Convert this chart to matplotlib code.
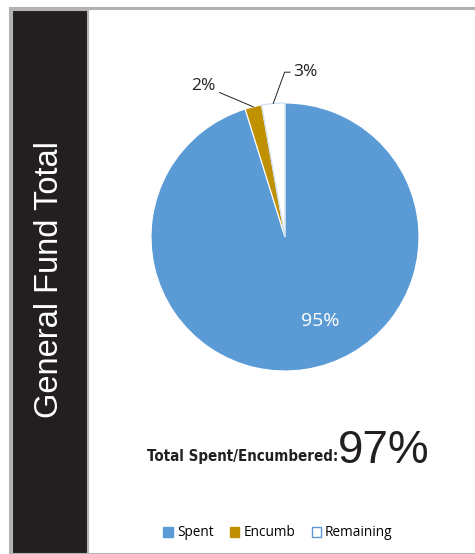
import numpy as np
import matplotlib.pyplot as plt
from matplotlib.patches import Rectangle, Patch

# data
categories = ["Spent", "Encumb", "Remaining"]
shares = [95.2, 2.0, 2.8]
colors = ["#5B9BD5", "#BF9000", "#FFFFFF"]
total_label = "97%"
side_title = "General Fund Total"

W, H = 475, 554
fig = plt.figure(figsize=(W / 100, H / 100), dpi=100)
fig.patch.set_facecolor("white")

# frame: grey top line and dark side panel
fig.add_artist(Rectangle((10 / W, 0), 1, 1 - 8 / H, transform=fig.transFigure,
                         facecolor="none", edgecolor="#B3B3B3", lw=2.2))
fig.add_artist(Rectangle((12 / W, 0), 76 / W, 1 - 10 / H, transform=fig.transFigure,
                         facecolor="#231F20", edgecolor="#B3B3B3", lw=1.5))
fig.text(50 / W, 1 - 280 / H, side_title, rotation=90, color="white",
         fontsize=23.5, family="Liberation Sans", ha="center", va="center")

# pie
cx, cy, r = 285, 237, 134
ax = fig.add_axes([(cx - r) / W, 1 - (cy + r) / H, 2 * r / W, 2 * r / H])
wedges, _ = ax.pie(shares, colors=colors, startangle=90, counterclock=False,
                   radius=1, wedgeprops=dict(edgecolor="white", linewidth=0.8))
wedges[2].set_edgecolor("#C9DDF0")
ax.set_xlim(-1, 1)
ax.set_ylim(-1, 1)
ax.set_aspect("equal")
ax.axis("off")

def mid(w):
    a = np.deg2rad((w.theta1 + w.theta2) / 2)
    return np.cos(a), np.sin(a)

ax.text(0.26, -0.63, f"{shares[0]:.0f}%", color="white", fontsize=14,
        family="Open Sans", ha="center", va="center")
ax.annotate(f"{shares[1]:.0f}%", xy=mid(wedges[1]), xytext=(-0.52, 1.13),
            fontsize=12.5, family="Open Sans", ha="right", va="center",
            color="#231F20", annotation_clip=False,
            arrowprops=dict(arrowstyle="-", lw=0.7, color="#231F20",
                            shrinkA=1, shrinkB=0))
ax.annotate(f"{shares[2]:.0f}%", xy=mid(wedges[2]), xytext=(0.06, 1.23),
            fontsize=12.5, family="Open Sans", ha="left", va="center",
            color="#231F20", annotation_clip=False,
            arrowprops=dict(arrowstyle="-", lw=0.7, color="#231F20",
                            shrinkA=0, shrinkB=0,
                            connectionstyle="angle,angleA=0,angleB=70,rad=0"))

# total
fig.text(147 / W, 1 - 461 / H, "Total Spent/Encumbered:", fontsize=10.8,
         fontweight="bold", fontstretch="condensed",
         family=["DejaVu Sans"], ha="left", va="baseline", color="#231F20")
fig.text(338 / W, 1 - 463 / H, total_label, fontsize=33,
         family="Liberation Sans", ha="left", va="baseline", color="#231F20")

# legend
handles = [Patch(facecolor=c, edgecolor="#5B9BD5" if c == "#FFFFFF" else c)
           for c in colors]
fig.legend(handles, categories, loc="center", bbox_to_anchor=(278 / W, 1 - 533 / H),
           ncol=3, frameon=False, handlelength=0.7, handleheight=0.7,
           handletextpad=0.3, columnspacing=1.2,
           prop=dict(family="Open Sans", size=9.8))

fig.savefig("out.png", dpi=100)
